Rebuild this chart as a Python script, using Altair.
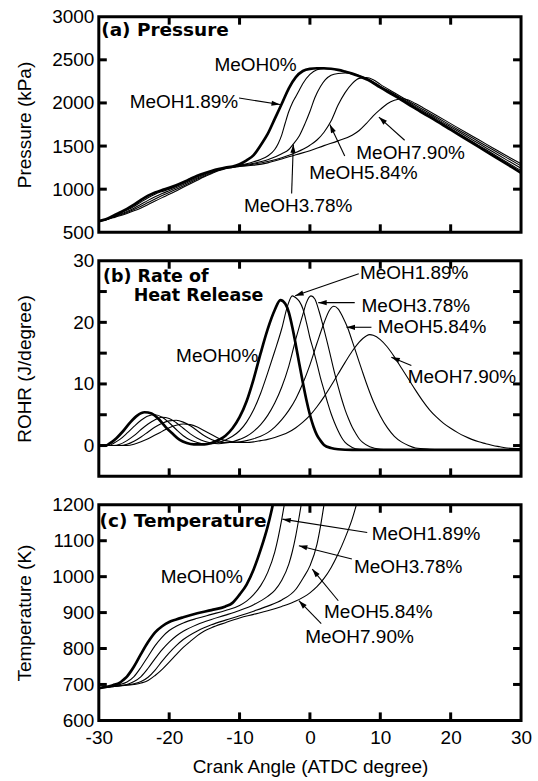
import math
import altair as alt
import pandas as pd

SERIES = ["MeOH0%", "MeOH1.89%", "MeOH3.78%", "MeOH5.84%", "MeOH7.90%"]
X_DOMAIN = [-30, 30]
X_LABELS = [-30, -20, -10, 0, 10, 20, 30]
X_INNER_TICKS = [-20, -10, 0, 10, 20]

# ---------------- (a) Pressure (kPa) ----------------
pressure_0 = [(-30,630),(-29,650),(-28,690),(-27,730),(-26,772),(-25,820),(-24,875),(-23,925),(-22,962),(-21,990),(-20,1015),(-19,1045),(-18,1080),(-17,1118),(-16,1155),(-15,1185),(-14,1210),(-13,1232),(-12,1250),(-11,1262),(-10,1290),(-9,1335),(-8,1395),(-7,1510),(-6,1640),(-5,1815),(-4,1990),(-3,2170),(-2,2300),(-1,2370),(0,2395),(1,2402),(2,2402),(3,2396),(4,2383),(5,2363),(6,2340),(7,2310),(8.3,2266),(10,2180),(12,2085),(14,1985),(16,1885),(18,1790),(20,1690),(22,1590),(24,1490),(26,1390),(28,1290),(30,1190)]
pressure_1 = [(-30,630),(-29,648),(-28,683),(-27,718),(-26,757),(-25,800),(-24,850),(-23,900),(-22,942),(-21,973),(-20,1000),(-19,1032),(-18,1068),(-17,1106),(-16,1143),(-15,1175),(-14,1203),(-13,1228),(-12,1248),(-11,1262),(-10,1278),(-9,1295),(-8,1318),(-7,1345),(-6,1385),(-5,1460),(-4.5,1530),(-4,1630),(-3.5,1770),(-3,1900),(-2.5,2000),(-2,2075),(-1.5,2150),(-1,2225),(0,2330),(1,2385),(2,2398),(3,2393),(4,2382),(5,2365),(6,2342),(7,2314),(8.3,2272),(10,2187),(12,2093),(14,1995),(16,1896),(18,1803),(20,1705),(22,1606),(24,1508),(26,1410),(28,1312),(30,1215)]
pressure_2 = [(-30,630),(-29,646),(-28,678),(-27,708),(-26,742),(-25,780),(-24,824),(-23,870),(-22,912),(-21,950),(-20,982),(-19,1016),(-18,1053),(-17,1092),(-16,1130),(-15,1164),(-14,1196),(-13,1224),(-12,1246),(-11,1260),(-10,1272),(-8,1300),(-6,1340),(-4,1410),(-3,1460),(-2.4,1520),(-1.5,1620),(-0.7,1760),(0,1900),(0.7,2060),(1.5,2190),(2.2,2270),(3,2320),(4,2342),(5,2347),(6,2337),(7,2314),(8.3,2276),(10,2195),(12,2103),(14,2007),(16,1910),(18,1818),(20,1722),(22,1625),(24,1529),(26,1433),(28,1337),(30,1243)]
pressure_3 = [(-30,630),(-29,645),(-28,673),(-27,700),(-26,730),(-25,764),(-24,802),(-23,845),(-22,887),(-21,926),(-20,962),(-19,999),(-18,1038),(-17,1078),(-16,1117),(-15,1154),(-14,1188),(-13,1219),(-12,1244),(-11,1257),(-10,1267),(-8,1290),(-6,1320),(-4,1365),(-2,1425),(0,1510),(1,1570),(2,1660),(3,1790),(4,1975),(5,2120),(6,2225),(7,2285),(8,2295),(9,2270),(10,2215),(12,2118),(14,2022),(16,1926),(18,1834),(20,1740),(22,1645),(24,1551),(26,1457),(28,1363),(30,1270)]
pressure_4 = [(-30,630),(-29,644),(-28,668),(-27,692),(-26,719),(-25,749),(-24,783),(-23,822),(-22,863),(-21,902),(-20,940),(-19,980),(-18,1021),(-17,1063),(-16,1104),(-15,1144),(-14,1180),(-13,1213),(-12,1238),(-11,1252),(-10,1262),(-8,1278),(-6,1305),(-4,1350),(-2,1400),(0,1445),(2,1505),(4,1560),(6,1625),(7,1680),(8,1760),(9,1850),(10,1925),(11,1990),(12,2030),(13,2048),(14,2035),(15,1993),(16,1948),(18,1855),(20,1760),(22,1665),(24,1572),(26,1478),(28,1385),(30,1295)]
PRESSURE_DOMAIN = [500, 3000]
PRESSURE_LABELS = [500, 1000, 1500, 2000, 2500, 3000]
PRESSURE_TICKS = [1000, 1500, 2000, 2500]
pressure_title = ["(a) Pressure"]
pressure_title_pos = [(-29.66, 2847)]
pressure_text = ["MeOH0%", "MeOH1.89%", "MeOH3.78%", "MeOH5.84%", "MeOH7.90%"]
pressure_text_pos = [(-7.73, 2443), (-17.9, 2007), (-1.67, 807), (7.6, 1190), (14.3, 1420)]
pressure_arrows = [(-10.07, 2057, -4.26, 1981), (-2.6, 950, -2.36, 1519), (4.95, 1384, 2.83, 1750), (13.46, 1567, 9.8, 1836)]

# ---------------- (b) Rate of heat release (J/degree) ----------------
rohr_0 = [(-30,0),(-29,0),(-28.5,0.3),(-27.5,1.2),(-26.5,2.4),(-25.5,3.8),(-24.5,4.9),(-23.5,5.4),(-22.5,5.2),(-21.5,4.3),(-20.5,3.0),(-19.5,1.9),(-18.5,0.9),(-17.5,0.4),(-16.5,0.2),(-15,0.2),(-14,0.4),(-13,0.9),(-12,1.6),(-11,2.8),(-10,4.6),(-9,7.2),(-8,10.8),(-7,15.0),(-6,18.9),(-5,22.0),(-4.2,23.6),(-3.5,23.0),(-3,21.6),(-2.5,19.2),(-2,16.3),(-1.5,13.2),(-1,10.2),(-0.5,7.4),(0,5.0),(0.5,3.1),(1,1.7),(1.5,0.8),(2,0.1),(3,-0.4),(4,-0.6),(6,-0.7),(30,-0.7)]
rohr_1 = [(-30,0),(-28.5,0),(-28,0.3),(-27,1.0),(-26,2.0),(-25,3.1),(-24,4.1),(-23,4.8),(-22,5.0),(-21,4.6),(-20,3.7),(-19,2.6),(-18,1.6),(-17,0.9),(-16,0.5),(-15,0.3),(-14,0.3),(-13,0.5),(-12,0.9),(-11,1.5),(-10,2.4),(-9,3.8),(-8,5.8),(-7,8.5),(-6,11.8),(-5,15.3),(-4,19.0),(-3.2,22.6),(-2.5,24.3),(-2,24.0),(-1.5,23.4),(-1,22.2),(-0.5,20.0),(0,17.5),(0.5,15.5),(1,13.3),(1.5,11.0),(2,9.0),(2.5,7.0),(3,5.2),(3.5,3.7),(4,2.4),(4.5,1.3),(5,0.5),(6,-0.3),(7,-0.6),(9,-0.7),(30,-0.7)]
rohr_2 = [(-30,0),(-28,0),(-27,0.2),(-26,0.8),(-25,1.6),(-24,2.6),(-23,3.5),(-22,4.2),(-21,4.6),(-20,4.4),(-19,3.7),(-18,2.8),(-17,1.9),(-16,1.2),(-15,0.7),(-14,0.4),(-13,0.3),(-12,0.4),(-11,0.6),(-10,1.0),(-9,1.5),(-8,2.3),(-7,3.4),(-6,4.9),(-5,6.9),(-4,9.5),(-3,12.9),(-2,17.3),(-1,21.3),(-0.5,23.2),(0.15,24.3),(0.7,23.8),(1.3,21.8),(1.9,19.3),(2.5,16.6),(3,14.2),(3.5,11.8),(4,9.6),(4.5,7.6),(5,5.8),(5.5,4.3),(6,3.0),(6.5,2.0),(7,1.1),(7.5,0.5),(8.5,-0.2),(10,-0.6),(12,-0.7),(30,-0.7)]
rohr_3 = [(-30,0),(-27,0),(-26,0.2),(-25,0.7),(-24,1.4),(-23,2.2),(-22,3.0),(-21,3.6),(-20,4.0),(-19,4.1),(-18,3.8),(-17,3.2),(-16,2.4),(-15,1.6),(-14,1.0),(-13,0.6),(-12,0.5),(-11,0.5),(-10,0.6),(-9,0.8),(-8,1.1),(-7,1.5),(-6,2.1),(-5,3.0),(-4,4.2),(-3,5.7),(-2,7.6),(-1,10.1),(0,13.1),(1,16.6),(2,19.9),(2.8,22.0),(3.4,22.6),(4,22.2),(4.7,20.8),(5.4,19.0),(6,17.0),(6.7,14.6),(7.4,12.2),(8,10.2),(9,7.2),(10,4.8),(11,2.9),(12,1.5),(13,0.6),(14,0.0),(15,-0.4),(17,-0.6),(20,-0.7),(30,-0.7)]
rohr_4 = [(-30,0),(-26,0),(-25,0.2),(-24,0.6),(-23,1.1),(-22,1.7),(-21,2.3),(-20,2.9),(-19,3.3),(-18,3.5),(-17,3.4),(-16,3.0),(-15,2.4),(-14,1.8),(-13,1.2),(-12,0.8),(-11,0.6),(-10,0.5),(-9,0.5),(-8,0.6),(-7,0.8),(-6,1.0),(-5,1.3),(-4,1.7),(-3,2.2),(-2,2.9),(-1,3.8),(0,4.9),(1,6.3),(2,7.9),(3,9.7),(4,11.6),(5,13.5),(6,15.3),(7,16.8),(8,17.8),(8.5,18.0),(9,17.9),(10,17.2),(11,16.0),(12,14.4),(13,12.6),(14,10.8),(15,9.0),(16,7.3),(17,5.8),(18,4.6),(19,3.6),(20,2.8),(21,2.1),(22,1.5),(23,1.0),(24,0.6),(25,0.3),(26,0.0),(27,-0.2),(28,-0.4),(30,-0.5)]
ROHR_DOMAIN = [-5, 30]
ROHR_LABELS = [0, 10, 20, 30]
ROHR_TICKS = [0, 5, 10, 15, 20, 25]
rohr_title = ["(b) Rate of", "Heat Release"]
rohr_title_pos = [(-29.41, 27.4), (-25.05, 24.3)]
rohr_text = ["MeOH0%", "MeOH1.89%", "MeOH3.78%", "MeOH5.84%", "MeOH7.90%"]
rohr_text_pos = [(-13.18, 14.6), (14.81, 28.0), (15.05, 22.6), (17.35, 19.2), (21.6, 11.1)]
rohr_arrows = [(6.94, 27.9, -2.1, 24.3), (6.37, 23.2, 1.18, 23.2), (8.74, 19.2, 5.2, 19.2), (14.41, 13.0, 11.57, 14.35)]

# ---------------- (c) Temperature (K) ----------------
temp_0 = [(-30,690),(-28,698),(-27,705),(-26.5,713),(-26,722),(-25.5,735),(-25,750),(-24,785),(-23,818),(-22,845),(-21,862),(-20,874),(-19,881),(-18,887),(-16,898),(-14,907),(-12,917),(-11,927),(-10,950),(-9,978),(-8,1020),(-7,1075),(-6,1140),(-5.5,1180),(-5,1225)]
temp_1 = [(-30,690),(-28,696),(-27,700),(-26,707),(-25,722),(-24,748),(-23,778),(-22,808),(-21,832),(-20,850),(-19,862),(-18,871),(-16,884),(-14,895),(-12,906),(-10,920),(-9,932),(-8,950),(-7,975),(-6,1012),(-5,1068),(-4.5,1110),(-4,1160),(-3.6,1205),(-3.2,1250)]
temp_2 = [(-30,690),(-28,694),(-26,700),(-25,708),(-24,722),(-23,745),(-22,772),(-21,797),(-20,818),(-19,835),(-18,848),(-16,867),(-14,881),(-12,893),(-10,906),(-8,922),(-6,945),(-5,962),(-4,990),(-3,1035),(-2.5,1070),(-2,1115),(-1.5,1170),(-1.2,1205),(-0.8,1250)]
temp_3 = [(-30,690),(-27,697),(-25,702),(-24,708),(-23,720),(-22,740),(-21,765),(-20,788),(-19,808),(-18,825),(-16,849),(-14,866),(-12,879),(-10,891),(-8,904),(-6,918),(-4,935),(-2,965),(-1,995),(0,1030),(1,1090),(1.5,1140),(2,1200),(2.5,1260)]
temp_4 = [(-30,690),(-27,696),(-25,700),(-24,704),(-23,711),(-22,725),(-21,742),(-20,762),(-19,783),(-18,803),(-17,820),(-16,836),(-15,849),(-14,858),(-12,872),(-10,885),(-8,895),(-6,905),(-4,917),(-2,932),(0,955),(1,972),(2,995),(3,1025),(4,1063),(5,1108),(6,1160),(6.6,1200),(7.2,1245)]
TEMP_DOMAIN = [600, 1200]
TEMP_LABELS = [600, 700, 800, 900, 1000, 1100, 1200]
TEMP_TICKS = [700, 800, 900, 1000, 1100]
temp_title = ["(c) Temperature"]
temp_title_pos = [(-29.9, 1156)]
temp_text = ["MeOH0%", "MeOH1.89%", "MeOH3.78%", "MeOH5.84%", "MeOH7.90%"]
temp_text_pos = [(-15.36, 998), (16.5, 1119), (13.96, 1026), (9.72, 901), (7.05, 831)]
temp_arrows = [(8.14, 1123, -3.92, 1160), (5.96, 1049, -1.57, 1086), (4.03, 933, 0.33, 1021), (1.61, 869, -1.57, 933)]

# ---------------- layout / style ----------------
W = 423
H = 216
FONT = "Liberation Sans"
FS = 19
TICK_LEN = 8


def panel(series, ydom, ylabels, yticks, ytitle, titles, title_pos,
          texts, text_pos, arrows, bottom=False, title_size=18.5):
    xscale = alt.Scale(domain=X_DOMAIN, nice=False, zero=False)
    yscale = alt.Scale(domain=ydom, nice=False, zero=False)
    if bottom:
        xaxis = alt.Axis(values=X_LABELS, labelExpr="'' + datum.value",
                         title="Crank Angle (ATDC degree)", ticks=False,
                         domain=False, grid=False, labelFontSize=FS,
                         titleFontSize=FS, titleFontWeight="normal",
                         labelPadding=8, titlePadding=10, labelFont=FONT,
                         titleFont=FONT, labelColor="black", titleColor="black",
                         labelFlush=False)
    else:
        xaxis = None
    yaxis = alt.Axis(values=ylabels, format="d", title=ytitle, ticks=False,
                     domain=False, grid=False, labelFontSize=FS,
                     titleFontSize=FS, titleFontWeight="normal", labelPadding=5,
                     labelFont=FONT, titleFont=FONT, labelColor="black",
                     titleColor="black", titleX=-64, titleY=H / 2,
                     labelFlush=False)
    X = lambda f="x": alt.X(f"{f}:Q", scale=xscale, axis=xaxis)
    Y = lambda f="y": alt.Y(f"{f}:Q", scale=yscale, axis=yaxis)

    rows = []
    for name, pts in zip(SERIES, series):
        for x, y in pts:
            rows.append({"x": x, "y": y, "s": name})
    df = pd.DataFrame(rows)
    thin = alt.Chart(df[df.s != SERIES[0]]).mark_line(
        color="black", strokeWidth=1.1, interpolate="monotone", clip=True
    ).encode(x=X(), y=Y(), detail="s:N")
    thick = alt.Chart(df[df.s == SERIES[0]]).mark_line(
        color="black", strokeWidth=2.7, interpolate="monotone", clip=True
    ).encode(x=X(), y=Y())

    # arrows
    def to_px(x, y):
        px = (x - X_DOMAIN[0]) / (X_DOMAIN[1] - X_DOMAIN[0]) * W
        py = (ydom[1] - y) / (ydom[1] - ydom[0]) * H
        return px, py
    arr = []
    for x0, y0, x1, y1 in arrows:
        p0 = to_px(x0, y0)
        p1 = to_px(x1, y1)
        ang = math.degrees(math.atan2(p1[1] - p0[1], p1[0] - p0[0])) % 360
        arr.append({"x": x0, "y": y0, "x2": x1, "y2": y1, "ang": ang})
    adf = pd.DataFrame(arr)
    shafts = alt.Chart(adf).mark_rule(color="black", strokeWidth=1.1).encode(
        x=X(), y=Y(), x2="x2:Q", y2="y2:Q")
    heads = alt.Chart(adf).mark_point(
        shape="M0,0L-2,-0.62L-2,0.62Z", filled=True, color="black",
        opacity=1, size=72, strokeWidth=0
    ).encode(x=X("x2"), y=Y("y2"), angle=alt.Angle("ang:Q", scale=None))

    tdf = pd.DataFrame([{"x": p[0], "y": p[1], "t": t} for t, p in zip(texts, text_pos)])
    labels = alt.Chart(tdf).mark_text(
        font=FONT, fontSize=FS, color="black", align="center", baseline="middle"
    ).encode(x=X(), y=Y(), text="t:N")

    hdf = pd.DataFrame([{"x": p[0], "y": p[1], "t": t} for t, p in zip(titles, title_pos)])
    head_txt = alt.Chart(hdf).mark_text(
        font="DejaVu Sans", fontWeight="bold", fontSize=title_size, color="black",
        align="left", baseline="middle"
    ).encode(x=X(), y=Y(), text="t:N")

    xt = pd.DataFrame({"x": X_INNER_TICKS})
    yt = pd.DataFrame({"y": yticks})
    tb = alt.Chart(xt).mark_rule(color="black", strokeWidth=3).encode(
        x=X(), y=alt.value(H), y2=alt.value(H - TICK_LEN))
    tt = alt.Chart(xt).mark_rule(color="black", strokeWidth=3).encode(
        x=X(), y=alt.value(0), y2=alt.value(TICK_LEN))
    tl = alt.Chart(yt).mark_rule(color="black", strokeWidth=3).encode(
        y=Y(), x=alt.value(0), x2=alt.value(TICK_LEN))
    tr = alt.Chart(yt).mark_rule(color="black", strokeWidth=3).encode(
        y=Y(), x=alt.value(W), x2=alt.value(W - TICK_LEN))

    return alt.layer(thin, thick, shafts, heads, labels, head_txt,
                     tb, tt, tl, tr).properties(width=W, height=H)


pa = panel([pressure_0, pressure_1, pressure_2, pressure_3, pressure_4],
           PRESSURE_DOMAIN, PRESSURE_LABELS, PRESSURE_TICKS, "Pressure (kPa)",
           pressure_title, pressure_title_pos, pressure_text, pressure_text_pos,
           pressure_arrows)
pb = panel([rohr_0, rohr_1, rohr_2, rohr_3, rohr_4],
           ROHR_DOMAIN, ROHR_LABELS, ROHR_TICKS, "ROHR (J/degree)",
           rohr_title, rohr_title_pos, rohr_text, rohr_text_pos, rohr_arrows,
           title_size=17.5)
pc = panel([temp_0, temp_1, temp_2, temp_3, temp_4],
           TEMP_DOMAIN, TEMP_LABELS, TEMP_TICKS, "Temperature (K)",
           temp_title, temp_title_pos, temp_text, temp_text_pos, temp_arrows,
           bottom=True)

chart = alt.vconcat(pa, pb, pc, spacing=28.5, bounds="flush").properties(
    padding={"left": 14, "top": 5, "right": 4, "bottom": 2},
    background="white",
).configure_view(stroke="black", strokeWidth=3)

chart.save("out.html", embed_options={"renderer": "svg", "actions": False})
